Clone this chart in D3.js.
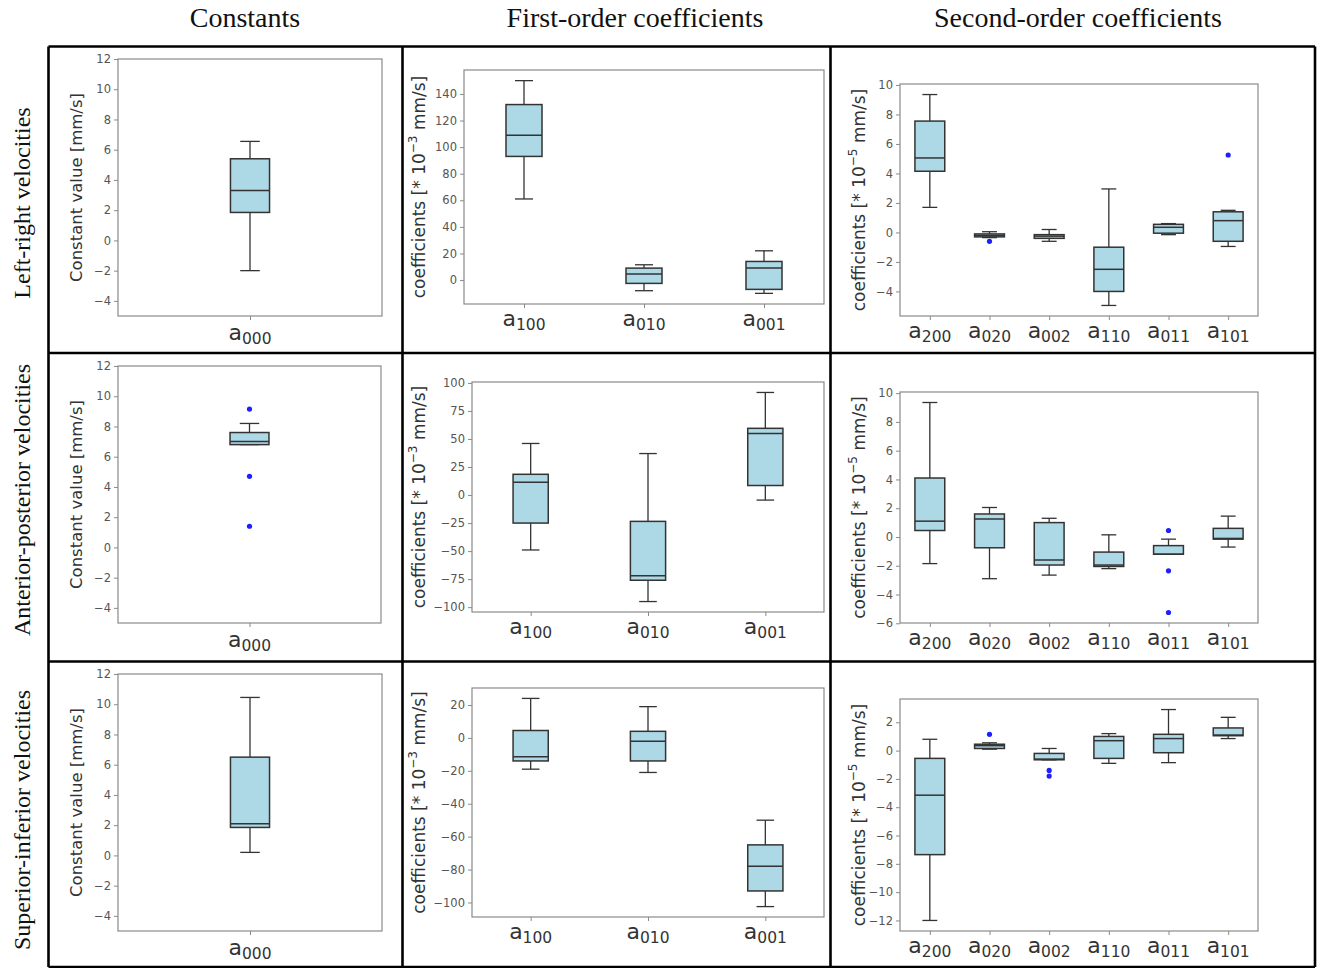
<!DOCTYPE html>
<html>
<head>
<meta charset="utf-8">
<script src="https://cdn.jsdelivr.net/npm/d3@7"></script>
<style>
  html, body { margin: 0; padding: 0; background: #fff; }
  svg { display: block; }
</style>
</head>
<body>
<div id="chart"></div>
<script>
// grid titles
var colHeaders = ["Constants", "First-order coefficients", "Second-order coefficients"];
var rowLabels = ["Left-right velocities", "Anterior-posterior velocities", "Superior-inferior velocities"];

// x categories (subscripts of a)
var constCats = ["000"];
var firstCats = ["100", "010", "001"];
var secondCats = ["200", "020", "002", "110", "011", "101"];

// box stats: [low whisker, Q1, median, Q3, high whisker]
var lrConst = [[-2.0, 1.85, 3.3, 5.4, 6.55]];
var apConst = [[6.8, 6.8, 7.0, 7.6, 8.2]];
var siConst = [[0.2, 1.85, 2.1, 6.5, 10.45]];

var lrFirst = [[61, 93, 109, 132, 150], [-8, -2.5, 4.5, 9, 11.5], [-10, -7, 9, 14, 22]];
var apFirst = [[-49, -25, 11.5, 18.5, 46], [-95, -76, -72, -23.5, 37], [-4.5, 8.5, 55, 59.5, 91.5]];
var siFirst = [[-19, -14, -11.5, 4.5, 24], [-21, -14, -2, 4, 19], [-102.5, -93, -78, -65, -50]];

var lrSecond = [[1.7, 4.15, 5.05, 7.55, 9.35], [-0.35, -0.3, -0.2, -0.1, 0.05], [-0.6, -0.4, -0.25, -0.15, 0.2],
                [-4.95, -4.0, -2.5, -1.0, 2.95], [-0.15, -0.05, 0.35, 0.55, 0.6], [-0.95, -0.6, 0.8, 1.4, 1.5]];
var apSecond = [[-1.85, 0.45, 1.1, 4.1, 9.35], [-2.9, -0.75, 1.25, 1.6, 2.05], [-2.65, -1.95, -1.6, 1.0, 1.3],
                [-2.2, -2.05, -1.95, -1.05, 0.15], [-1.2, -1.2, -1.2, -0.6, -0.15], [-0.7, -0.15, -0.1, 0.6, 1.45]];
var siSecond = [[-12.0, -7.35, -3.15, -0.55, 0.8], [0.1, 0.15, 0.35, 0.45, 0.55], [-0.65, -0.65, -0.6, -0.2, 0.15],
                [-0.9, -0.55, 0.7, 1.0, 1.2], [-0.85, -0.15, 0.85, 1.15, 2.9], [0.85, 1.05, 1.1, 1.6, 2.35]];

// outliers per category
var apConstOut = [[9.15, 4.7, 1.4]];
var lrSecondOut = [[], [-0.6], [], [], [], [5.25]];
var apSecondOut = [[], [], [], [], [0.45, -2.35, -5.25], []];
var siSecondOut = [[], [1.15], [-1.4, -1.8], [], [], []];

// y ticks
var constTicks = [-4, -2, 0, 2, 4, 6, 8, 10, 12];
var constRange = [-5, 12];
var lrFirstTicks = [0, 20, 40, 60, 80, 100, 120, 140];
var apFirstTicks = [-100, -75, -50, -25, 0, 25, 50, 75, 100];
var siFirstTicks = [-100, -80, -60, -40, -20, 0, 20];
var lrSecondTicks = [-4, -2, 0, 2, 4, 6, 8, 10];
var apSecondTicks = [-6, -4, -2, 0, 2, 4, 6, 8, 10];
var siSecondTicks = [-12, -10, -8, -6, -4, -2, 0, 2];

var W = 1318, H = 968;
var svg = d3.select("#chart").append("svg").attr("width", W).attr("height", H);

// panel frames: [x0, x1, y0, y1] of the plot area, label column x, box width (in category units)
var panels = [
  { cats: constCats, stats: lrConst, out: [[]], ticks: constTicks, range: constRange, f: [118, 382, 59, 316], lx: 77, bw: 0.148, lab: "const" },
  { cats: firstCats, stats: lrFirst, out: [[], [], []], ticks: lrFirstTicks, f: [464, 824, 70, 304], lx: 420, bw: 0.3, lab: "-3" },
  { cats: secondCats, stats: lrSecond, out: lrSecondOut, ticks: lrSecondTicks, f: [900, 1258, 84, 316], lx: 860, bw: 0.5, lab: "-5" },
  { cats: constCats, stats: apConst, out: apConstOut, ticks: constTicks, range: constRange, f: [118, 381, 366, 623], lx: 77, bw: 0.148, lab: "const" },
  { cats: firstCats, stats: apFirst, out: [[], [], []], ticks: apFirstTicks, f: [472, 824, 382, 612], lx: 420, bw: 0.3, lab: "-3" },
  { cats: secondCats, stats: apSecond, out: apSecondOut, ticks: apSecondTicks, f: [900, 1258, 392, 623], lx: 860, bw: 0.5, lab: "-5" },
  { cats: constCats, stats: siConst, out: [[]], ticks: constTicks, range: constRange, f: [118, 382, 674, 931], lx: 77, bw: 0.148, lab: "const" },
  { cats: firstCats, stats: siFirst, out: [[], [], []], ticks: siFirstTicks, f: [472, 824, 688, 917], lx: 420, bw: 0.3, lab: "-3" },
  { cats: secondCats, stats: siSecond, out: siSecondOut, ticks: siSecondTicks, f: [900, 1258, 699, 931], lx: 860, bw: 0.5, lab: "-5" }
];

var ink = "#333", tickInk = "#555", frameInk = "#8a8a8a";
var fmt = d3.format("");

panels.forEach(function (p) {
  var x0 = p.f[0], x1 = p.f[1], y0 = p.f[2], y1 = p.f[3];
  var dom = p.range;
  if (!dom) {
    // matplotlib-style autoscale with 5% margins
    var all = [];
    p.stats.forEach(function (s) { all = all.concat(s); });
    p.out.forEach(function (o) { all = all.concat(o); });
    var mn = d3.min(all), mx = d3.max(all), pad = (mx - mn) * 0.05;
    dom = [mn - pad, mx + pad];
  }
  var y = d3.scaleLinear().domain(dom).range([y1, y0]);
  var x = d3.scaleLinear().domain([0.5, p.cats.length + 0.5]).range([x0, x1]);
  var unit = (x1 - x0) / p.cats.length;
  var bw = p.bw * unit, cw = bw / 2;

  var g = svg.append("g");

  // y axis
  var ya = g.append("g").attr("transform", "translate(" + x0 + ",0)")
    .call(d3.axisLeft(y).tickValues(p.ticks).tickSize(4).tickPadding(3).tickFormat(fmt));
  ya.select(".domain").remove();
  ya.selectAll("line").attr("stroke", frameInk);
  ya.selectAll("text").attr("fill", tickInk).attr("font-size", 11.5).attr("font-family", "DejaVu Sans");

  // x ticks
  var xa = g.append("g").attr("transform", "translate(0," + y1 + ")")
    .call(d3.axisBottom(x).tickValues(d3.range(1, p.cats.length + 1)).tickSize(4).tickFormat(""));
  xa.select(".domain").remove();
  xa.selectAll("line").attr("stroke", frameInk);

  // frame
  g.append("rect").attr("x", x0).attr("y", y0).attr("width", x1 - x0).attr("height", y1 - y0)
    .attr("fill", "none").attr("stroke", frameInk).attr("stroke-width", 1.2);

  // boxes
  p.stats.forEach(function (s, i) {
    var cx = x(i + 1);
    var bg = g.append("g").attr("stroke", ink).attr("stroke-width", 1.3);
    bg.append("line").attr("x1", cx).attr("x2", cx).attr("y1", y(s[4])).attr("y2", y(s[3]));
    bg.append("line").attr("x1", cx).attr("x2", cx).attr("y1", y(s[1])).attr("y2", y(s[0]));
    bg.append("line").attr("x1", cx - cw / 2).attr("x2", cx + cw / 2).attr("y1", y(s[4])).attr("y2", y(s[4]));
    bg.append("line").attr("x1", cx - cw / 2).attr("x2", cx + cw / 2).attr("y1", y(s[0])).attr("y2", y(s[0]));
    bg.append("rect").attr("x", cx - bw / 2).attr("width", bw)
      .attr("y", y(s[3])).attr("height", Math.max(y(s[1]) - y(s[3]), 0.5))
      .attr("fill", "#add8e6").attr("stroke-width", 1.5);
    bg.append("line").attr("x1", cx - bw / 2).attr("x2", cx + bw / 2).attr("y1", y(s[2])).attr("y2", y(s[2]))
      .attr("stroke-width", 1.5);
    p.out[i].forEach(function (v) {
      g.append("circle").attr("cx", cx).attr("cy", y(v)).attr("r", 2.6).attr("fill", "#1f1fff");
    });

    // category label a_xxx
    var t = g.append("text").attr("x", cx).attr("y", y1 + (p.lab === "const" ? 24 : 22))
      .attr("text-anchor", "middle").attr("fill", ink).attr("font-family", "DejaVu Sans");
    t.append("tspan").attr("font-size", 22).text("a");
    t.append("tspan").attr("font-size", 15.5).attr("dy", 4).text(p.cats[i]);
  });

  // y label
  var yl = g.append("text").attr("transform", "translate(" + p.lx + "," + ((y0 + y1) / 2) + ") rotate(-90)")
    .attr("text-anchor", "middle").attr("dominant-baseline", "middle")
    .attr("fill", ink).attr("font-family", "DejaVu Sans");
  if (p.lab === "const") {
    yl.attr("font-size", 16.5).text("Constant value [mm/s]");
  } else {
    yl.attr("font-size", 17);
    yl.append("tspan").text("coefficients [* 10");
    yl.append("tspan").attr("font-size", 12).attr("dy", -7).text("\u2212" + p.lab.slice(1));
    yl.append("tspan").attr("dy", 7).text(" mm/s]");
  }
});

// grid lines
var gx = [48.5, 402.5, 830.5, 1315], gy = [46.5, 353, 661.5, 967];
var grid = svg.append("g").attr("stroke", "#000").attr("stroke-width", 2.6);
gx.forEach(function (v) { grid.append("line").attr("x1", v).attr("x2", v).attr("y1", gy[0]).attr("y2", gy[3]); });
gy.forEach(function (v) { grid.append("line").attr("y1", v).attr("y2", v).attr("x1", gx[0]).attr("x2", gx[3]); });

// headers
var hx = [245, 635, 1078];
colHeaders.forEach(function (h, i) {
  svg.append("text").attr("x", hx[i]).attr("y", 27).attr("text-anchor", "middle")
    .attr("font-family", "Liberation Serif").attr("font-size", 28).attr("fill", "#111").text(h);
});
var ry = [203, 500, 820];
rowLabels.forEach(function (r, i) {
  svg.append("text").attr("transform", "translate(30," + ry[i] + ") rotate(-90)").attr("text-anchor", "middle")
    .attr("font-family", "Liberation Serif").attr("font-size", 24).attr("fill", "#111").text(r);
});
</script>
</body>
</html>
